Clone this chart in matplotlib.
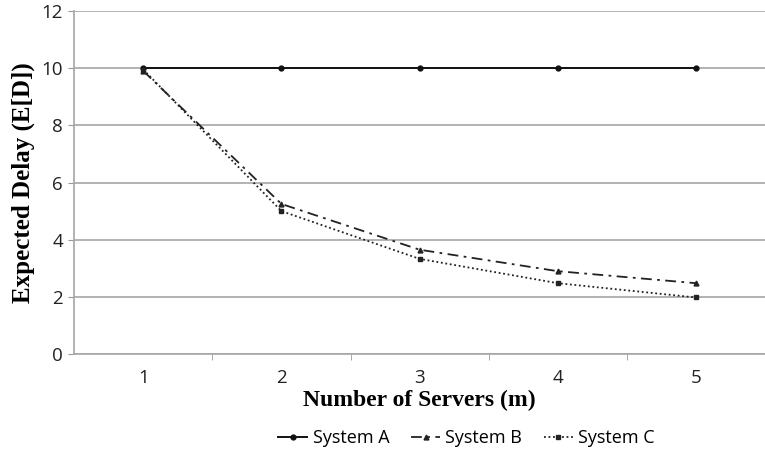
import matplotlib.pyplot as plt
import numpy as np

servers = [1, 2, 3, 4, 5]
system_a = [10, 10, 10, 10, 10]
system_b = [9.9, 5.25, 3.65, 2.9, 2.48]
system_c = [9.95, 5.0, 3.33, 2.48, 1.98]

fig = plt.figure(figsize=(7.65, 4.54), dpi=100)
ax = fig.add_axes([0.097, 0.22, 0.903, 0.756])

ax.plot(servers, system_a, color='#111111', linewidth=1.4, marker='o', markersize=3.5,
        label='System A')
ax.plot(servers, system_b, color='#222222', linewidth=1.3, linestyle=(0, (6, 3, 1.5, 3)),
        marker='^', markersize=3.5, label='System B')
ax.plot(servers, system_c, color='#222222', linewidth=1.3, linestyle=(0, (1, 1.5)),
        marker='s', markersize=3.5, label='System C')

ax.set_xlim(0.5, 5.5)
ax.set_ylim(0, 12)
ax.set_yticks(np.arange(0, 13, 2))
ax.set_xticks(servers)
ax.set_xticks([1.5, 2.5, 3.5, 4.5], minor=True)
ax.tick_params(axis='x', which='major', length=0, pad=11)
ax.tick_params(axis='x', which='minor', length=4, color='#999999', direction='out')
ax.tick_params(axis='y', length=4, color='#999999', pad=4)
for lab in ax.get_xticklabels() + ax.get_yticklabels():
    lab.set_fontfamily('Open Sans')
    lab.set_fontsize(13.5)
    lab.set_color('#222222')

ax.grid(axis='y', color='#a6a6a6', linewidth=1.2)
ax.set_axisbelow(True)
for s in ['top', 'right']:
    ax.spines[s].set_visible(False)
for s in ['left', 'bottom']:
    ax.spines[s].set_color('#a6a6a6')
    ax.spines[s].set_linewidth(1.2)

ax.set_xlabel('Number of Servers (m)', fontfamily='Liberation Serif', fontweight='bold',
              fontsize=17, labelpad=2)
ax.set_ylabel('Expected Delay (E[D])', fontfamily='Liberation Serif', fontweight='bold',
              fontsize=18, labelpad=5)

fig.legend(loc='lower center', bbox_to_anchor=(0.61, -0.02), ncol=3, frameon=False,
           prop={'family': 'Open Sans', 'size': 13}, handlelength=1.6, columnspacing=1.2,
           handletextpad=0.3)

plt.savefig('out.png', dpi=100)
plt.close()
